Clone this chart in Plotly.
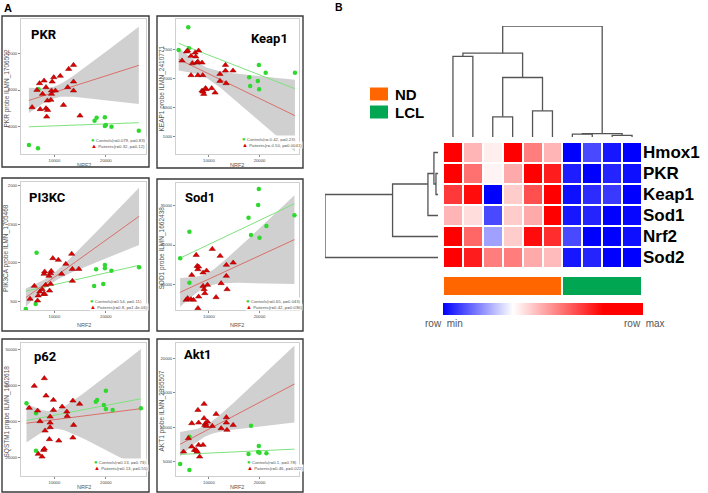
import numpy as np
import plotly.graph_objects as go

W, H = 708, 493
def fx(px): return px / W
def fy(py): return 1 - py / H

# ------------------------------------------------------------------ data
NRF2_RANGE = [3500, 27800]
NRF2_TICKS = [10000, 20000]

pkr_ctrl_x = [5040, 6800, 6900, 17800, 18200, 19800, 20000, 19800, 21100, 26400]
pkr_ctrl_y = [1920, 1560, 8070, 4610, 4940, 4980, 4130, 4020, 3950, 3510]
pkr_pat_x = [5660, 6600, 7100, 7230, 7680, 7990, 8360, 8360, 8490, 8620, 8680, 9300, 9430,
             9430, 9560, 9870, 10190, 11130, 11760, 12580, 12770, 13710, 13710, 13710, 14970]
pkr_pat_y = [6090, 8000, 8740, 5870, 7560, 9030, 8300, 5970, 5050, 6820, 5790, 6900, 7560,
             7930, 8920, 9400, 7930, 9550, 6340, 8300, 10320, 10760, 8920, 7930, 5160]

keap1_ctrl_x = [4020, 5920, 6060, 17960, 18160, 19660, 19870, 19930, 21220, 27000]
keap1_ctrl_y = [2490, 2882, 2519, 2017, 1867, 1953, 2230, 1810, 2097, 2097]
keap1_pat_x = [4690, 5580, 5780, 6470, 6730, 6470, 7280, 7410, 7620, 7820, 7960, 7820, 8640, 8780,
               8640, 8840, 8980, 9320, 9460, 10550, 11220, 12180, 12180, 13270, 13270, 13400, 14760]
keap1_pat_y = [2305, 2461, 2478, 2386, 2259, 2052, 2443, 2374, 2270, 2288, 2478, 2052, 2270, 2052,
               1785, 1768, 1728, 1827, 1810, 1827, 1751, 2074, 1953, 2230, 2132, 1913, 2132]

pi3kc_ctrl_x = [6530, 4440, 6340, 18100, 17720, 19490, 19810, 19810, 21080, 26450]
pi3kc_ctrl_y = [1130, 400, 465, 914, 698, 724, 970, 927, 897, 940]
pi3kc_pat_x = [5260, 6090, 6720, 6850, 7150, 7610, 7910, 7990, 8100, 8100, 8290, 9050, 8930, 9240,
               9240, 9370, 9690, 10760, 11400, 12220, 13360, 13490, 13490, 14740]
pi3kc_pat_y = [530, 698, 508, 573, 624, 655, 594, 854, 594, 884, 711, 637, 828, 724,
               863, 892, 1057, 1035, 854, 983, 1113, 918, 763, 918]

sod1_ctrl_x = [4320, 6150, 6150, 17830, 18320, 19860, 19740, 20000, 21360, 26900]
sod1_ctrl_y = [28310, 31690, 25230, 33460, 31270, 37090, 35060, 30930, 32400, 33760]
sod1_pat_x = [5500, 5800, 6470, 6610, 6960, 7490, 7690, 7830, 7970, 7970, 7830, 8840, 8840, 9050,
              9190, 9530, 9730, 10670, 11420, 12220, 12420, 13450, 13450, 13590, 14800]
sod1_pat_y = [23040, 23250, 23120, 26200, 23040, 28730, 27340, 26920, 27250, 23460, 21990, 24810,
              26500, 24390, 23890, 26750, 24940, 29490, 23380, 28610, 25150, 27470, 26080, 24390, 27760]

p62_ctrl_x = [4570, 6410, 6410, 18040, 18300, 19610, 20000, 20000, 21310, 26800]
p62_ctrl_y = [35110, 32330, 21940, 35560, 36030, 34640, 38610, 33530, 33250, 33720]
p62_pat_x = [5100, 6080, 6730, 6860, 7200, 7590, 7900, 8040, 8180, 8370, 9020, 9160, 9160, 9160,
             9800, 9800, 10850, 11500, 12410, 12480, 13590, 13590, 13730, 14900, 8040]
p62_pat_y = [33810, 39920, 33060, 21030, 30110, 20280, 22140, 22500, 27500, 37220, 25110, 31390,
             29720, 28440, 36030, 33250, 24720, 34170, 32780, 31580, 35830, 25560, 29080, 34920, 42060]

akt1_ctrl_x = [4320, 6150, 6150, 18320, 17830, 19860, 19740, 20000, 21360, 26900]
akt1_ctrl_y = [4670, 3790, 8630, 10230, 6120, 7280, 6410, 6310, 6220, 4900]
akt1_pat_x = [4990, 5940, 6610, 6610, 7160, 7480, 7690, 7830, 7970, 8170, 7970, 8840, 9050, 9050,
              9190, 9330, 9530, 9730, 10670, 11420, 12430, 13450, 13450, 13570, 14790]
akt1_pat_y = [6450, 8400, 10580, 7180, 6700, 6700, 6450, 12510, 10670, 5730, 7430, 7430, 13390,
              11310, 10330, 10580, 10190, 10810, 10190, 11930, 9850, 11450, 10670, 9610, 10330]

# heatmap (row-scaled values, 0 = row min, 1 = row max)
genes = ["Hmox1", "PKR", "Keap1", "Sod1", "Nrf2", "Sod2"]
sample_groups = ["ND"] * 6 + ["LCL"] * 4
heat_hmox1 = [0.85, 0.48, 0.38, 0.82, 0.58, 0.48, 0.00, 0.10, 0.03, 0.00]
heat_pkr   = [0.85, 0.60, 0.37, 0.50, 0.90, 0.75, 0.04, 0.00, 0.05, 0.02]
heat_keap1 = [0.70, 0.78, 0.00, 0.44, 0.66, 0.90, 0.02, 0.06, 0.08, 0.00]
heat_sod1  = [0.48, 0.41, 0.10, 0.44, 0.50, 0.88, 0.03, 0.05, 0.00, 0.01]
heat_nrf2  = [0.85, 0.62, 0.22, 0.44, 0.78, 0.72, 0.10, 0.00, 0.00, 0.02]
heat_sod2  = [0.85, 0.75, 0.58, 0.58, 0.50, 0.47, 0.03, 0.05, 0.00, 0.00]

# dendrogram merges: (child a, child b, height); leaves 0..n-1, new nodes n, n+1, ...
col_merges = [(0, 1, 0.727), (2, 3, 0.182), (4, 5, 0.236), (11, 12, 0.536), (10, 13, 0.755),
              (6, 7, 0.025), (8, 9, 0.015), (15, 16, 0.03), (14, 17, 1.0)]
row_merges = [(1, 2, 0.018), (0, 6, 0.036), (7, 3, 0.089), (8, 4, 0.402), (9, 5, 1.0)]

# ------------------------------------------------------------------ helpers
GREEN_PT = "#2fd82f"
RED_PT = "#e00000"
GREEN_LN = "#7ee27e"
RED_LN = "#d9706a"
BAND = "rgba(150,150,150,0.45)"
TXT = "#555555"
FONT = "Liberation Sans, Arial, sans-serif"


def lm_band(x, y, xs):
    x = np.asarray(x, float)
    y = np.asarray(y, float)
    n = len(x)
    b1, b0 = np.polyfit(x, y, 1)
    yh = b0 + b1 * xs
    res = y - (b0 + b1 * x)
    s = np.sqrt((res ** 2).sum() / (n - 2))
    sxx = ((x - x.mean()) ** 2).sum()
    se = s * np.sqrt(1.0 / n + (xs - x.mean()) ** 2 / sxx)
    df = n - 2
    t = 1.96 + 2.5 / df + 1.5 / df ** 2
    return yh, yh - t * se, yh + t * se


def dendro_segments(merges, n_leaves):
    pos = {i: float(i) for i in range(n_leaves)}
    hgt = {i: 0.0 for i in range(n_leaves)}
    leaves = {i: [i] for i in range(n_leaves)}
    P, Hh = [], []
    for k, (a, b, h) in enumerate(merges):
        node = n_leaves + k
        P += [pos[a], pos[a], pos[b], pos[b], None]
        Hh += [hgt[a], h, h, hgt[b], None]
        leaves[node] = leaves[a] + leaves[b]
        pos[node] = float(np.mean(leaves[node]))
        hgt[node] = h
    return P, Hh


# ------------------------------------------------------------------ figure
fig = go.Figure()
annotations = []
shapes = []

panels = [
    dict(title="PKR", ytitle="PKR probe ILMN_1706502",
         cx=pkr_ctrl_x, cy=pkr_ctrl_y, px_=pkr_pat_x, py_=pkr_pat_y,
         box=(2, 16, 149, 167), inner=(21, 19, 146, 154), yr=[928, 15845], yt=[4000, 8000, 12000],
         leg=("Controls(r=0.079, p=0.83)", "Patients(r=0.32, p=0.12)"), legxy=(90, 140),
         tpos=(29, 34, "left"), nrf2y=165),
    dict(title="Keap1", ytitle="KEAP1 probe ILMN_2410771",
         cx=keap1_ctrl_x, cy=keap1_ctrl_y, px_=keap1_pat_x, py_=keap1_pat_y,
         box=(157, 16, 303, 168), inner=(176, 19, 299, 154), yr=[690, 3026], yt=[1000, 1500, 2000, 2500],
         leg=("Controls(r=-0.42, p=0.23)", "Patients(r=-0.50, p=0.0041)"), legxy=(241, 139),
         tpos=(290, 38.5, "right"), nrf2y=165),
    dict(title="PI3KC", ytitle="PIK3CA probe ILMN_1705468",
         cx=pi3kc_ctrl_x, cy=pi3kc_ctrl_y, px_=pi3kc_pat_x, py_=pi3kc_pat_y,
         box=(2, 178, 149, 331), inner=(21, 182, 146, 310), yr=[387, 2045], yt=[500, 1000, 1500, 2000],
         leg=("Controls(r=0.54, p=0.11)", "Patients(r=0.8, p=1.4e-06)"), legxy=(89, 301),
         tpos=(27, 197.5, "left"), nrf2y=325),
    dict(title="Sod1", ytitle="SOD1 probe ILMN_1662438",
         cx=sod1_ctrl_x, cy=sod1_ctrl_y, px_=sod1_pat_x, py_=sod1_pat_y,
         box=(157, 179, 303, 331), inner=(176, 183, 299, 310), yr=[21772, 37848], yt=[25000, 30000, 35000],
         leg=("Controls(r=0.65, p=0.043)", "Patients(r=0.42, p=0.036)"), legxy=(245, 300.5),
         tpos=(183, 197.5, "left"), nrf2y=325),
    dict(title="p62", ytitle="SQSTM1 probe ILMN_1662618",
         cx=p62_ctrl_x, cy=p62_ctrl_y, px_=p62_pat_x, py_=p62_pat_y,
         box=(2, 339, 149, 492), inner=(21, 343, 146, 476), yr=[14917, 51860], yt=[20000, 30000, 40000, 50000],
         leg=("Controls(r=0.13, p=0.73)", "Patients(r=0.13, p=0.55)"), legxy=(93, 462),
         tpos=(32, 356, "left"), nrf2y=486.5),
    dict(title="Akt1", ytitle="AKT1 probe ILMN_2395507",
         cx=akt1_ctrl_x, cy=akt1_ctrl_y, px_=akt1_pat_x, py_=akt1_pat_y,
         box=(157, 339, 303, 492), inner=(176, 343, 299, 476), yr=[2922, 22253], yt=[5000, 10000, 15000, 20000],
         leg=("Controls(r=0.1, p=0.78)", "Patients(r=0.46, p=0.022)"), legxy=(246, 462),
         tpos=(182, 354.5, "left"), nrf2y=486.5),
]

layout_axes = {}
for i, p in enumerate(panels, start=1):
    xa, ya = f"x{i}", f"y{i}"
    l, t, r, b = p["inner"]
    allx = np.array(p["cx"] + p["px_"], float)
    xs = np.linspace(allx.min(), allx.max(), 80)
    yh, lo, hi = lm_band(p["px_"], p["py_"], xs)
    cyh, _, _ = lm_band(p["cx"], p["cy"], xs)
    fig.add_trace(go.Scatter(x=np.concatenate([xs, xs[::-1]]), y=np.concatenate([hi, lo[::-1]]),
                             fill="toself", fillcolor=BAND, line=dict(width=0), mode="lines",
                             hoverinfo="skip", showlegend=False, xaxis=xa, yaxis=ya))
    fig.add_trace(go.Scatter(x=xs, y=cyh, mode="lines", line=dict(color=GREEN_LN, width=1),
                             showlegend=False, xaxis=xa, yaxis=ya))
    fig.add_trace(go.Scatter(x=xs, y=yh, mode="lines", line=dict(color=RED_LN, width=1),
                             showlegend=False, xaxis=xa, yaxis=ya))
    fig.add_trace(go.Scatter(x=p["cx"], y=p["cy"], mode="markers",
                             marker=dict(color=GREEN_PT, size=4.5, symbol="circle", line=dict(width=0)),
                             showlegend=False, xaxis=xa, yaxis=ya))
    fig.add_trace(go.Scatter(x=p["px_"], y=p["py_"], mode="markers",
                             marker=dict(color=RED_PT, size=5.5, symbol="triangle-up",
                                         line=dict(width=0.5, color="#8a0000")),
                             showlegend=False, xaxis=xa, yaxis=ya))
    axcommon = dict(showline=True, mirror=True, linecolor="#cfcfcf", linewidth=1, showgrid=False,
                    zeroline=False, ticks="outside", ticklen=2, tickwidth=0.6, tickcolor="#888",
                    tickfont=dict(size=4.2, color="#444444", family=FONT), tickformat="d", automargin=False)
    layout_axes[f"xaxis{i}"] = dict(domain=[fx(l), fx(r)], range=NRF2_RANGE, tickvals=NRF2_TICKS,
                                    anchor=ya, **axcommon)
    layout_axes[f"yaxis{i}"] = dict(domain=[fy(b), fy(t)], range=p["yr"], tickvals=p["yt"],
                                    anchor=xa, **axcommon)
    # outer frame
    bl, bt, br, bb = p["box"]
    shapes.append(dict(type="rect", xref="paper", yref="paper", x0=fx(bl), x1=fx(br), y0=fy(bb), y1=fy(bt),
                       line=dict(color="#3a3a3a", width=1.4), fillcolor="rgba(0,0,0,0)", layer="above"))
    # panel title
    tx, ty, anc = p["tpos"]
    annotations.append(dict(x=fx(tx), y=fy(ty), xref="paper", yref="paper", text=f"<b>{p['title']}</b>",
                            showarrow=False, xanchor=anc, yanchor="middle",
                            font=dict(size=13, color="black", family="Roboto, Arial")))
    # axis titles
    annotations.append(dict(x=fx((l + r) / 2), y=fy(p["nrf2y"]), xref="paper", yref="paper", text="NRF2",
                            showarrow=False, xanchor="center", yanchor="middle",
                            font=dict(size=5.5, color=TXT, family=FONT)))
    annotations.append(dict(x=fx(l - 15), y=fy((t + b) / 2 + 2), xref="paper", yref="paper",
                            text=p["ytitle"], textangle=-90, showarrow=False,
                            xanchor="center", yanchor="middle", font=dict(size=6.5, color=TXT, family=FONT)))
    # legend
    lx, ly = p["legxy"]
    annotations.append(dict(x=fx(lx), y=fy(ly), xref="paper", yref="paper",
                            text=f'<span style="color:{GREEN_PT};font-size:6px">●</span> {p["leg"][0]}',
                            showarrow=False, xanchor="left", yanchor="middle", bgcolor="white", borderpad=0,
                            font=dict(size=4.3, color=TXT, family=FONT)))
    annotations.append(dict(x=fx(lx), y=fy(ly + 6), xref="paper", yref="paper",
                            text=f'<span style="color:{RED_PT};font-size:6px">▲</span> {p["leg"][1]}',
                            showarrow=False, xanchor="left", yanchor="middle", bgcolor="white", borderpad=0,
                            font=dict(size=4.3, color=TXT, family=FONT)))

# ------------------------------------------------------------------ panel B
HM_L, HM_R, HM_T, HM_B = 443, 642, 142, 268
z = [heat_hmox1, heat_pkr, heat_keap1, heat_sod1, heat_nrf2, heat_sod2]
ncol = len(heat_hmox1)
colorscale = [[0, "#0000ff"], [0.35, "#ffffff"], [0.8, "#ff0000"], [1, "#ff0000"]]
fig.add_trace(go.Heatmap(z=z, x=list(range(ncol)), y=genes, colorscale=colorscale, zmin=0, zmax=1,
                         xgap=2, ygap=2, xaxis="x7", yaxis="y7", hoverinfo="skip",
                         colorbar=dict(orientation="h", thickness=12, thicknessmode="pixels",
                                       len=200, lenmode="pixels", x=fx((HM_L + HM_R) / 2), xanchor="center",
                                       y=fy(303), yanchor="top", showticklabels=False, ticks="",
                                       outlinewidth=0, xpad=0, ypad=0)))
layout_axes["xaxis7"] = dict(domain=[fx(HM_L), fx(HM_R)], range=[-0.5, ncol - 0.5], visible=False, anchor="y7")
layout_axes["yaxis7"] = dict(domain=[fy(HM_B), fy(HM_T)], autorange="reversed", side="right", anchor="x7",
                             ticks="", showgrid=False, zeroline=False, showline=False, automargin=False,
                             tickfont=dict(size=17, color="black", family=FONT), tickprefix="<b>",
                             ticksuffix="</b>")

# group annotation bar
group_names = list(dict.fromkeys(sample_groups))
group_sizes = [sample_groups.count(g) for g in group_names]
edges = list(np.concatenate([[-0.5], np.cumsum(group_sizes) - 0.5]))
fig.add_trace(go.Heatmap(z=[list(range(len(group_names)))], x=edges, y=[0], xgap=2,
                         colorscale=[[0, "#ff6600"], [0.5, "#ff6600"], [0.5, "#00a651"], [1, "#00a651"]],
                         zmin=0, zmax=1, showscale=False, xaxis="x8", yaxis="y8", hoverinfo="skip"))
layout_axes["xaxis8"] = dict(domain=[fx(HM_L), fx(HM_R)], range=[-0.5, ncol - 0.5], visible=False, anchor="y8")
layout_axes["yaxis8"] = dict(domain=[fy(295), fy(277)], range=[-0.5, 0.5], visible=False, anchor="x8")

# column dendrogram
cp, ch = dendro_segments(col_merges, ncol)
fig.add_trace(go.Scatter(x=cp, y=ch, mode="lines", line=dict(color="#555555", width=1.3),
                         showlegend=False, xaxis="x9", yaxis="y9", hoverinfo="skip"))
layout_axes["xaxis9"] = dict(domain=[fx(HM_L), fx(HM_R)], range=[-0.5, ncol - 0.5], visible=False, anchor="y9")
layout_axes["yaxis9"] = dict(domain=[fy(137), fy(26)], range=[0, 1], visible=False, anchor="x9")

# row dendrogram
rp, rh = dendro_segments(row_merges, len(genes))
fig.add_trace(go.Scatter(x=rh, y=rp, mode="lines", line=dict(color="#555555", width=1.3),
                         showlegend=False, xaxis="x10", yaxis="y10", hoverinfo="skip"))
layout_axes["xaxis10"] = dict(domain=[fx(325), fx(438)], range=[1, 0], visible=False, anchor="y10")
layout_axes["yaxis10"] = dict(domain=[fy(HM_B), fy(HM_T)], range=[len(genes) - 0.5, -0.5], visible=False,
                              anchor="x10")

# legend ND / LCL
for name, color, yc in [("ND", "#ff6600", 94), ("LCL", "#00a651", 112)]:
    shapes.append(dict(type="rect", xref="paper", yref="paper", x0=fx(370), x1=fx(388),
                       y0=fy(yc + 6.5), y1=fy(yc - 6.5), fillcolor=color, line=dict(width=0)))
    annotations.append(dict(x=fx(393), y=fy(yc + 0.5), xref="paper", yref="paper", text=f"<b>{name}</b>",
                            showarrow=False, xanchor="left", yanchor="middle",
                            font=dict(size=15, color="black", family=FONT)))

annotations.append(dict(x=fx(423), y=fy(323), xref="paper", yref="paper", text="row  min", showarrow=False,
                        xanchor="left", yanchor="middle", font=dict(size=10, color=TXT, family=FONT)))
annotations.append(dict(x=fx(622), y=fy(323), xref="paper", yref="paper", text="row  max", showarrow=False,
                        xanchor="left", yanchor="middle", font=dict(size=10, color=TXT, family=FONT)))

# panel letters
annotations.append(dict(x=fx(2), y=fy(8), xref="paper", yref="paper", text="<b>A</b>", showarrow=False,
                        xanchor="left", yanchor="middle", font=dict(size=11, color="black", family=FONT)))
annotations.append(dict(x=fx(333), y=fy(7), xref="paper", yref="paper", text="<b>B</b>", showarrow=False,
                        xanchor="left", yanchor="middle", font=dict(size=10.5, color="black", family=FONT)))

fig.update_layout(width=W, height=H, margin=dict(l=0, r=0, t=0, b=0, autoexpand=False),
                  paper_bgcolor="white", plot_bgcolor="white", showlegend=False,
                  annotations=annotations, shapes=shapes, **layout_axes)

fig.write_html("out.html", config={"displayModeBar": False},
               post_script="document.body.style.margin='0';document.body.style.padding='0';")
